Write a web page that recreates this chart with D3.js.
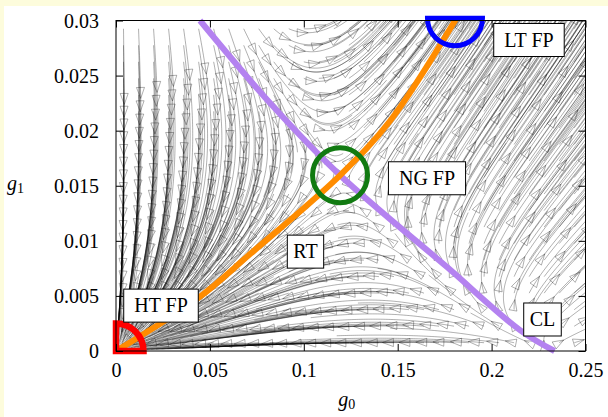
<!DOCTYPE html>
<html>
<head>
<meta charset="utf-8">
<script src="https://cdn.jsdelivr.net/npm/d3@7"></script>
<style>
  body { margin: 0; background: #fdfcdc; }
  text { font-family: "Liberation Serif", "DejaVu Serif", serif; }
</style>
</head>
<body>
<div id="chart"></div>
<script>
var width = 608,
    height = 417;

// ticks
var xTicks = [0, 0.05, 0.1, 0.15, 0.2, 0.25],
    xTickLabels = ["0", "0.05", "0.1", "0.15", "0.2", "0.25"],
    yTicks = [0, 0.005, 0.01, 0.015, 0.02, 0.025, 0.03],
    yTickLabels = ["0", "0.005", "0.01", "0.015", "0.02", "0.025", "0.03"];

// renormalized trajectory (orange) and critical line (purple)
var rtG0 = [0, 0.0437, 0.0714, 0.1193, 0.146, 0.1823],
    rtG1 = [0, 0.0048, 0.0088, 0.01595, 0.0209, 0.0305];
var clG0 = [0.0447, 0.0831, 0.1193, 0.1761, 0.2151, 0.2335],
    clG1 = [0.0300, 0.0223, 0.01595, 0.00764, 0.0019, 0.0];

// fixed points
var fpNames = ["HT FP", "NG FP", "LT FP"],
    fpG0 = [0, 0.1193, 0.1805],
    fpG1 = [0, 0.01595, 0.0302];

// boxed labels
var labNames = ["LT FP", "NG FP", "RT", "HT FP", "CL"],
    labG0 = [0.2199, 0.1656, 0.1009, 0.02396, 0.2271],
    labG1 = [0.02823, 0.01568, 0.00902, 0.00412, 0.00286];

// starting points of the flow lines
var seedG0 = [0.004, 0.012, 0.020, 0.028, 0.036, 0.044, 0.052, 0.060, 0.068, 0.076, 0.084,
              0.092, 0.100, 0.108, 0.116, 0.124, 0.132, 0.140, 0.148, 0.156, 0.164, 0.172,
              0.180, 0.188, 0.196, 0.204, 0.212, 0.220, 0.228, 0.236, 0.244],
    seedG1 = [0.00075, 0.00225, 0.00375, 0.00525, 0.00675, 0.00825, 0.00975, 0.01125, 0.01275,
              0.01425, 0.01575, 0.01725, 0.01875, 0.02025, 0.02175, 0.02325, 0.02475, 0.02625,
              0.02775, 0.02925];

// flow model (beta functions in units of the plot box): a, b, c, d and the warp
var flowCoef = [1.073, 0.918, 2.096, 0.0],
    warpCoef = [0.65, 0.99, 1.1234],
    flowTime = 2.2,
    flowSteps = 110,
    arrowStep = 14;

var x = d3.scaleLinear().domain([0, 0.25]).range([116, 585.5]),
    y = d3.scaleLinear().domain([0, 0.03]).range([351, 20.5]);

var svg = d3.select("#chart").append("svg")
    .attr("width", width)
    .attr("height", height);

svg.append("rect")
    .attr("x", 4).attr("y", 6)
    .attr("width", width - 4).attr("height", height - 6)
    .attr("fill", "#fff");

svg.append("clipPath").attr("id", "plotclip")
  .append("rect")
    .attr("x", x(0)).attr("y", y(0.03))
    .attr("width", x(0.25) - x(0)).attr("height", y(0) - y(0.03));

// --- flow lines ---
function toQ(p) { return [p[0], p[1] * warpCoef[2] / (warpCoef[0] + warpCoef[1] * p[0])]; }
function toP(q) { return [q[0], q[1] * (warpCoef[0] + warpCoef[1] * q[0]) / warpCoef[2]]; }
function beta(q) {
  var a = flowCoef[0], b = flowCoef[1], c = flowCoef[2], d = flowCoef[3];
  return [q[0] * (a * q[0] + b * q[1] - 1), q[1] * (c * q[0] + d * q[1] - 1)];
}
function rk4(q, h) {
  var k1 = beta(q),
      k2 = beta([q[0] + h / 2 * k1[0], q[1] + h / 2 * k1[1]]),
      k3 = beta([q[0] + h / 2 * k2[0], q[1] + h / 2 * k2[1]]),
      k4 = beta([q[0] + h * k3[0], q[1] + h * k3[1]]);
  return [q[0] + h / 6 * (k1[0] + 2 * k2[0] + 2 * k3[0] + k4[0]),
          q[1] + h / 6 * (k1[1] + 2 * k2[1] + 2 * k3[1] + k4[1])];
}

var flows = [];
seedG0.forEach(function (g0) {
  seedG1.forEach(function (g1) {
    var q = toQ([g0 / 0.25, g1 / 0.03]), pts = [[g0, g1]];
    for (var i = 0; i < flowSteps; i++) {
      q = rk4(q, flowTime / flowSteps);
      var p = toP(q);
      pts.push([p[0] * 0.25, p[1] * 0.03]);
      if (p[0] > 1.1 || p[1] > 1.1 || p[0] < -0.05 || p[1] < -0.05) break;
    }
    flows.push(pts);
  });
});

var line = d3.line().x(d => x(d[0])).y(d => y(d[1]));
var gFlow = svg.append("g").attr("clip-path", "url(#plotclip)");

gFlow.selectAll("path.flow")
    .data(flows)
  .enter().append("path")
    .attr("class", "flow")
    .attr("d", line)
    .attr("fill", "none")
    .attr("stroke", "#000")
    .attr("stroke-opacity", 0.7)
    .attr("stroke-width", 0.45);

// open arrowhead a short way along every flow line
function arrowHead(pts) {
  var n = Math.min(arrowStep, pts.length - 1);
  var x1 = x(pts[n][0]), y1 = y(pts[n][1]),
      x0 = x(pts[n - 1][0]), y0 = y(pts[n - 1][1]);
  var ang = Math.atan2(y1 - y0, x1 - x0), L = 11, W = 4;
  var bx = x1 - L * Math.cos(ang), by = y1 - L * Math.sin(ang);
  return "M" + x1 + "," + y1 +
         "L" + (bx - W * Math.sin(ang)) + "," + (by + W * Math.cos(ang)) +
         "L" + (bx + W * Math.sin(ang)) + "," + (by - W * Math.cos(ang)) + "Z";
}
gFlow.selectAll("path.head")
    .data(flows.filter(d => d.length > 2))
  .enter().append("path")
    .attr("class", "head")
    .attr("d", arrowHead)
    .attr("fill", "none")
    .attr("stroke", "#000")
    .attr("stroke-opacity", 0.7)
    .attr("stroke-width", 0.45);

// --- critical line and renormalized trajectory ---
var curve = d3.line().x(d => x(d[0])).y(d => y(d[1])).curve(d3.curveCatmullRom);

svg.append("path")
    .datum(clG0.map((g, i) => [g, clG1[i]]))
    .attr("d", curve)
    .attr("fill", "none")
    .attr("stroke", "#b482f0")
    .attr("stroke-width", 6);

svg.append("path")
    .datum(rtG0.map((g, i) => [g, rtG1[i]]))
    .attr("clip-path", "url(#plotclip)")
    .attr("d", curve)
    .attr("fill", "none")
    .attr("stroke", "#ff8c00")
    .attr("stroke-width", 6);

// --- fixed point markers ---
var fpArc = [
  {start: 0, end: Math.PI / 2, color: "#ff0000", w: 6.5},             // HT: quarter
  {start: 0, end: 2 * Math.PI, color: "#117a11", w: 5},              // NG: full circle
  {start: Math.PI / 2, end: 3 * Math.PI / 2, color: "#0000ff", w: 5} // LT: lower half
];
var markArc = d3.arc().innerRadius(0).outerRadius(27.5);
fpNames.forEach(function (name, i) {
  svg.append("path")
      .attr("transform", "translate(" + x(fpG0[i]) + "," + y(fpG1[i]) + ")")
      .attr("d", i === 1 ? d3.arc().innerRadius(27.5).outerRadius(27.5)({startAngle: 0, endAngle: 2 * Math.PI})
                         : markArc({startAngle: fpArc[i].start, endAngle: fpArc[i].end}))
      .attr("fill", "none")
      .attr("stroke", fpArc[i].color)
      .attr("stroke-width", fpArc[i].w)
      .attr("stroke-linejoin", "miter");
});

// --- frame and axes ---
svg.append("rect")
    .attr("x", x(0)).attr("y", y(0.03))
    .attr("width", x(0.25) - x(0)).attr("height", y(0) - y(0.03))
    .attr("fill", "none").attr("stroke", "#000").attr("stroke-width", 1);

var axB = svg.append("g").attr("transform", "translate(0," + y(0) + ")")
    .call(d3.axisBottom(x).tickValues(xTicks).tickSizeInner(-7).tickSizeOuter(0)
          .tickFormat((d, i) => xTickLabels[i]));
var axT = svg.append("g").attr("transform", "translate(0," + y(0.03) + ")")
    .call(d3.axisTop(x).tickValues(xTicks).tickSizeInner(-7).tickSizeOuter(0).tickFormat(""));
var axL = svg.append("g").attr("transform", "translate(" + x(0) + ",0)")
    .call(d3.axisLeft(y).tickValues(yTicks).tickSizeInner(-7).tickSizeOuter(0)
          .tickFormat((d, i) => yTickLabels[i]));
var axR = svg.append("g").attr("transform", "translate(" + x(0.25) + ",0)")
    .call(d3.axisRight(y).tickValues(yTicks).tickSizeInner(-7).tickSizeOuter(0).tickFormat(""));

[axB, axT, axL, axR].forEach(function (g) {
  g.select(".domain").remove();
  g.selectAll("line").attr("stroke", "#000");
  g.selectAll("text")
      .attr("font-family", "'Liberation Serif', serif")
      .attr("font-size", 20)
      .attr("fill", "#000");
});
axB.selectAll("text").attr("y", 26).attr("dy", null);
axL.selectAll("text").attr("x", -17).attr("dy", "0.33em");

// axis titles
var xt = svg.append("text")
    .attr("x", (x(0) + x(0.25)) / 2 - 4).attr("y", 406)
    .attr("font-size", 20).attr("text-anchor", "middle");
xt.append("tspan").attr("font-style", "italic").text("g");
xt.append("tspan").attr("font-size", 14).attr("dy", 3).text("0");

var yt = svg.append("text")
    .attr("x", 7).attr("y", 190)
    .attr("font-size", 20);
yt.append("tspan").attr("font-style", "italic").text("g");
yt.append("tspan").attr("font-size", 14).attr("dy", 3).text("1");

// --- boxed labels ---
labNames.forEach(function (name, i) {
  var g = svg.append("g").attr("transform", "translate(" + x(labG0[i]) + "," + y(labG1[i]) + ")");
  var t = g.append("text")
      .attr("text-anchor", "middle")
      .attr("dy", "0.34em")
      .attr("font-size", 20)
      .text(name);
  var w = t.node().getComputedTextLength() + (name.length > 2 ? 21 : 12);
  g.insert("rect", "text")
      .attr("x", -w / 2).attr("y", -16.5)
      .attr("width", w).attr("height", 33)
      .attr("fill", "#fff")
      .attr("stroke", "#000")
      .attr("stroke-width", 1);
});
</script>
</body>
</html>
